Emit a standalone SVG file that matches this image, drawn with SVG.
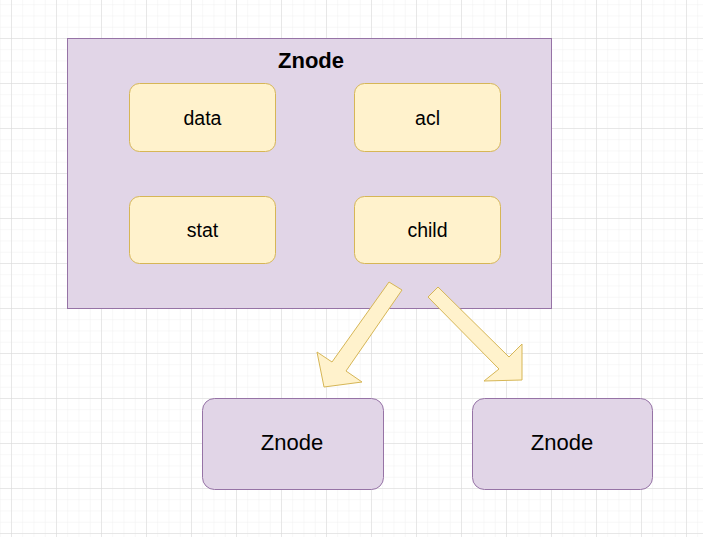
<svg xmlns="http://www.w3.org/2000/svg" width="703" height="537" viewBox="0 0 703 537">
<defs>
<pattern id="minor" x="11" y="38" width="11.25" height="11.25" patternUnits="userSpaceOnUse">
<path d="M0 0H11.25M0 0V11.25" fill="none" stroke="#f0f0f0" stroke-width="1"/>
</pattern>
<pattern id="major" x="11" y="38" width="45" height="45" patternUnits="userSpaceOnUse">
<path d="M0 0H45M0 0V45" fill="none" stroke="#d8d8d8" stroke-width="1"/>
</pattern>
<style>
.box{fill:#e1d5e7;stroke:#9673a6;stroke-width:1}
.item{fill:#fff2cc;stroke:#d6b656;stroke-width:1}
.arrow{fill:#fff2cc;stroke:#d6b656;stroke-width:1;stroke-linejoin:miter}
.t{font-family:"Liberation Sans",Arial,sans-serif;fill:#000;text-anchor:middle}
.s{font-size:19.5px}
.b{font-size:22px}
.h{font-size:22px;font-weight:bold}
</style>
</defs>
<rect width="703" height="537" fill="#ffffff"/>
<rect width="703" height="537" fill="url(#minor)"/>
<rect width="703" height="537" fill="url(#major)"/>
<g id="container">
<rect class="box" x="67.5" y="38.5" width="484" height="270"/>
<text class="t h" x="311" y="68">Znode</text>
</g>
<g id="data">
<rect class="item" x="129.5" y="83.5" width="146" height="68" rx="10"/>
<text class="t s" x="202.5" y="125">data</text>
</g>
<g id="acl">
<rect class="item" x="354.5" y="83.5" width="146" height="68" rx="10"/>
<text class="t s" x="427.5" y="125">acl</text>
</g>
<g id="stat">
<rect class="item" x="129.5" y="196.5" width="146" height="67" rx="10"/>
<text class="t s" x="202.5" y="237">stat</text>
</g>
<g id="child">
<rect class="item" x="354.5" y="196.5" width="146" height="67" rx="10"/>
<text class="t s" x="427.5" y="237">child</text>
</g>
<g id="znode-left">
<rect class="box" x="202.5" y="398.5" width="181" height="91" rx="12"/>
<text class="t b" x="292" y="450">Znode</text>
</g>
<g id="znode-right">
<rect class="box" x="472.5" y="398.5" width="180" height="91" rx="12"/>
<text class="t b" x="562" y="450">Znode</text>
</g>
<g id="connectors">
<polygon class="arrow" points="389,282 402,290 346,371 362,382 324,387 317,352 332,362"/>
<polygon class="arrow" points="438,287 509,357 522,344 522,380 484,381 499,369 428,297"/>
</g>
</svg>
